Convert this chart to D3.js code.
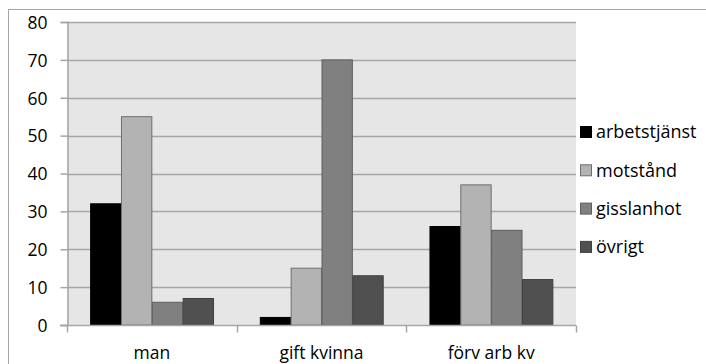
<!DOCTYPE html>
<html>
<head>
<meta charset="utf-8">
<script src="https://cdn.jsdelivr.net/npm/d3@7"></script>
<style>
  html, body { margin: 0; padding: 0; background: #fff; }
  svg { display: block; }
  text { font-family: "Open Sans", "Liberation Sans", sans-serif; fill: #000; }
</style>
</head>
<body>
<svg id="chart" width="706" height="364"></svg>
<script>
// Categories and series
const categories = ["man", "gift kvinna", "förv arb kv"];
const seriesNames = ["arbetstjänst", "motstånd", "gisslanhot", "övrigt"];
const arbetstjanst = [32, 2, 26];
const motstand = [55, 15, 37];
const gisslanhot = [6, 70, 25];
const ovrigt = [7, 13, 12];
const yTicks = [0, 10, 20, 30, 40, 50, 60, 70, 80];

const seriesValues = [arbetstjanst, motstand, gisslanhot, ovrigt];
const colors = ["#000000", "#b3b3b3", "#808080", "#505050"];
const strokes = ["#000000", "#6e6e6e", "#5e5e5e", "#404040"];

const svg = d3.select("#chart");
const plot = { left: 67, right: 576, top: 22, bottom: 325 };

// Outer chart frame
svg.append("rect")
  .attr("x", 8.5).attr("y", 9.5)
  .attr("width", 720).attr("height", 380)
  .attr("fill", "#fff").attr("stroke", "#a6a6a6").attr("stroke-width", 1);

// Plot background
svg.append("rect")
  .attr("x", plot.left).attr("y", plot.top)
  .attr("width", plot.right - plot.left).attr("height", plot.bottom - plot.top)
  .attr("fill", "#e6e6e6");

const x0 = d3.scaleBand().domain(categories).range([plot.left, plot.right]).paddingInner(0).paddingOuter(0);
const innerPad = 1.5 / 5.5 / 2;
const x1 = d3.scaleBand().domain(seriesNames)
  .range([x0.bandwidth() * innerPad, x0.bandwidth() * (1 - innerPad)]).padding(0);
const y = d3.scaleLinear().domain([0, 80]).range([plot.bottom, plot.top]);

// Gridlines
svg.append("g").selectAll("line").data(yTicks.filter(d => d > 0)).join("line")
  .attr("x1", plot.left).attr("x2", plot.right)
  .attr("y1", d => Math.round(y(d)) + 0.5).attr("y2", d => Math.round(y(d)) + 0.5)
  .attr("stroke", "#a6a6a6").attr("stroke-width", 1.5);

// Y axis
const yAxis = svg.append("g").attr("transform", `translate(${plot.left + 0.5},0)`)
  .call(d3.axisLeft(y).tickValues(yTicks).tickSize(7).tickPadding(13).tickFormat(d3.format("d")));
yAxis.select(".domain").attr("stroke", "#a6a6a6").attr("stroke-width", 1.5);
yAxis.selectAll(".tick line").attr("stroke", "#a6a6a6").attr("stroke-width", 1.5);
yAxis.selectAll(".tick text").attr("font-size", 17.5).attr("font-family", "\"Open Sans\", sans-serif").attr("fill", "#000").attr("dy", "0.36em");

// Bars
const groups = svg.append("g").selectAll("g").data(categories).join("g")
  .attr("transform", d => `translate(${x0(d)},0)`);
groups.selectAll("rect")
  .data((c, i) => seriesNames.map((s, j) => ({ s, j, v: seriesValues[j][i] })))
  .join("rect")
  .attr("x", d => x1(d.s) + 0.5)
  .attr("y", d => y(d.v))
  .attr("width", x1.bandwidth() - 0.5)
  .attr("height", d => y(0) - y(d.v))
  .attr("fill", d => colors[d.j])
  .attr("stroke", d => strokes[d.j])
  .attr("stroke-width", 1);

// X axis
const xAxis = svg.append("g").attr("transform", `translate(0,${plot.bottom + 0.5})`);
xAxis.append("line").attr("x1", plot.left - 7).attr("x2", plot.right)
  .attr("stroke", "#a6a6a6").attr("stroke-width", 1.5);
const boundaries = categories.map(c => x0(c)).concat([x0(categories[categories.length - 1]) + x0.bandwidth()]);
xAxis.selectAll("line.tk").data(boundaries).join("line").attr("class", "tk")
  .attr("x1", d => Math.round(d) + 0.5).attr("x2", d => Math.round(d) + 0.5)
  .attr("y1", 0).attr("y2", 7)
  .attr("stroke", "#a6a6a6").attr("stroke-width", 1.5);
xAxis.selectAll("text").data(categories).join("text")
  .attr("x", d => x0(d) + x0.bandwidth() / 2)
  .attr("y", 33)
  .attr("text-anchor", "middle")
  .attr("font-size", 17.5)
  .text(d => d);

// Legend
const legend = svg.append("g").attr("transform", "translate(580,0)");
const legendRows = legend.selectAll("g").data(seriesNames).join("g")
  .attr("transform", (d, i) => `translate(0,${132 + i * 38.3})`);
legendRows.append("rect")
  .attr("x", 0.5).attr("y", -5.5).attr("width", 11).attr("height", 11)
  .attr("fill", (d, i) => colors[i]).attr("stroke", (d, i) => strokes[i]);
legendRows.append("text")
  .attr("x", 16).attr("y", 0).attr("dy", "0.36em")
  .attr("font-size", 18)
  .text(d => d);
</script>
</body>
</html>
